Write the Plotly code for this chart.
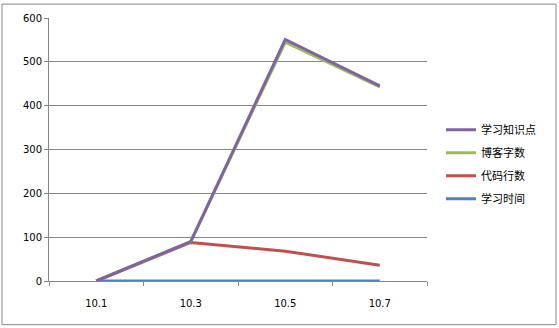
import plotly.graph_objects as go

categories = ["10.1", "10.3", "10.5", "10.7"]
study_time = [0, 0, 0, 0]
code_lines = [0, 88, 68, 36]
blog_words = [0, 90, 545, 443]
knowledge_points = [0, 90, 551, 445]

series = [
    ("学习时间", study_time, "#4F81BD", 4),
    ("代码行数", code_lines, "#C0504D", 3),
    ("博客字数", blog_words, "#9BBB59", 2),
    ("学习知识点", knowledge_points, "#8064A2", 1),
]

fig = go.Figure()
for name, vals, color, rank in series:
    fig.add_trace(go.Scatter(x=categories, y=vals, name=name, mode="lines",
                             legendgroup=name, legendrank=rank,
                             line=dict(color=color, width=3)))

W, H = 559, 328
l, r, t, b = 49, 132, 16, 47
pw, ph = W - l - r, H - t - b

fig.update_layout(
    width=W, height=H,
    margin=dict(l=l, r=r, t=t, b=b),
    paper_bgcolor="white", plot_bgcolor="white",
    font=dict(family="Noto Sans CJK SC, DejaVu Sans", size=10, color="black"),
    showlegend=True,
    legend=dict(traceorder="grouped", x=(441 - l) / pw, y=(281 - 114) / ph,
                xanchor="left", yanchor="top", font=dict(size=11),
                bgcolor="rgba(0,0,0,0)", itemwidth=30, tracegroupgap=4),
    xaxis=dict(type="category", range=[-0.5, 3.5], showgrid=False,
               showline=True, linecolor="#868686", linewidth=1,
               ticks="outside", tickson="boundaries", ticklen=4, tickcolor="#868686",
               ticklabelstandoff=13,
               tickfont=dict(family="DejaVu Sans", size=10)),
    yaxis=dict(range=[0, 600], dtick=100, showgrid=True, gridcolor="#868686", gridwidth=1,
               showline=True, linecolor="#868686", linewidth=1,
               ticks="outside", ticklen=4, tickcolor="#868686", zeroline=False,
               tickfont=dict(family="DejaVu Sans", size=10)),
    shapes=[dict(type="rect", xref="paper", yref="paper",
                 x0=(2 - l) / pw, x1=(556 - l) / pw,
                 y0=(281 - 325) / ph, y1=(281 - 2) / ph,
                 line=dict(color="#868686", width=1), layer="below")],
)

fig.write_html("out.html")
